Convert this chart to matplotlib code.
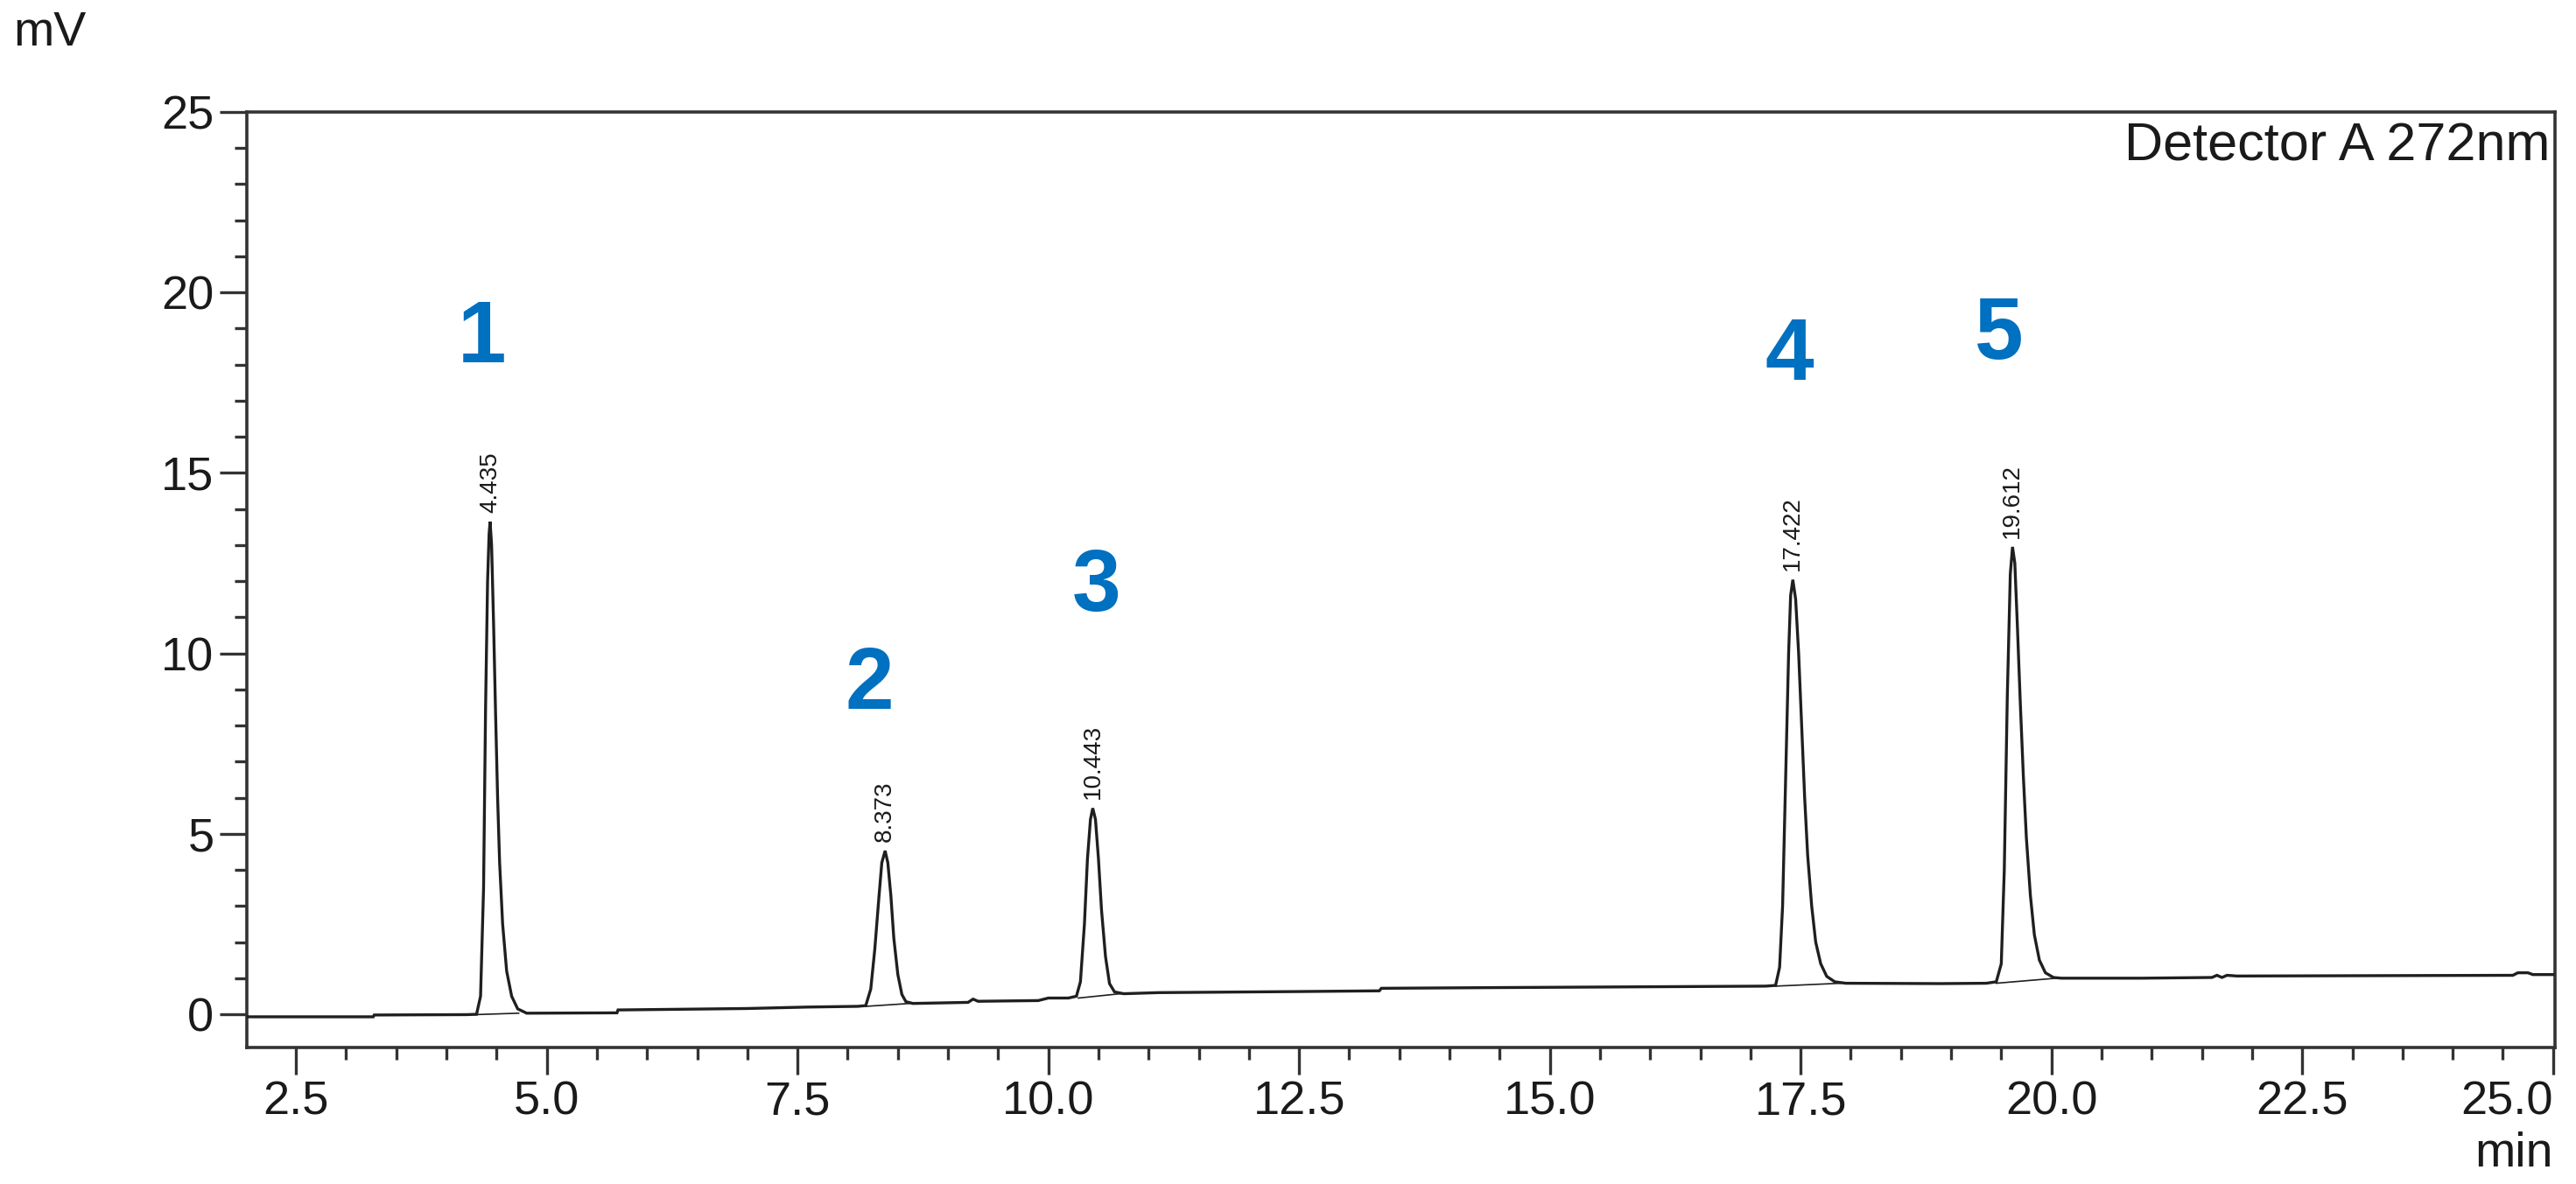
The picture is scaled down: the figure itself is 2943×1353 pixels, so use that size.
import matplotlib
matplotlib.use("Agg")
import matplotlib.pyplot as plt
from matplotlib.ticker import MultipleLocator
import numpy as np

# ---------------- data ----------------
base0_t  = [2.00, 3.27, 3.28, 4.20, 4.30]
base0_mv = [-0.07, -0.07, -0.02, -0.01, 0.00]

peak1_t  = [4.34, 4.37, 4.39, 4.41, 4.425, 4.435, 4.45, 4.47, 4.49, 4.51, 4.53, 4.56, 4.60, 4.65, 4.71, 4.80]
peak1_mv = [0.5, 3.5, 8.5, 12.0, 13.3, 13.65, 13.0, 10.8, 8.3, 6.0, 4.2, 2.5, 1.2, 0.5, 0.15, 0.03]

base1_t  = [5.70, 5.71, 7.00, 7.60, 8.10, 8.18]
base1_mv = [0.04, 0.12, 0.16, 0.20, 0.22, 0.24]

peak2_t  = [8.23, 8.27, 8.31, 8.34, 8.373, 8.40, 8.43, 8.46, 8.50, 8.54, 8.58, 8.65]
peak2_mv = [0.7, 1.8, 3.2, 4.2, 4.53, 4.2, 3.3, 2.1, 1.1, 0.55, 0.35, 0.30]

base2_t  = [9.20, 9.25, 9.30, 9.90, 10.00, 10.20, 10.28]
base2_mv = [0.33, 0.42, 0.36, 0.38, 0.45, 0.45, 0.50]

peak3_t  = [10.32, 10.36, 10.39, 10.42, 10.443, 10.47, 10.50, 10.53, 10.57, 10.61, 10.66, 10.75]
peak3_mv = [0.9, 2.5, 4.3, 5.4, 5.71, 5.4, 4.3, 2.9, 1.6, 0.85, 0.62, 0.57]

base3_t  = [11.10, 12.50, 13.30, 13.32, 14.50, 16.50, 17.15, 17.25]
base3_mv = [0.60, 0.63, 0.65, 0.72, 0.74, 0.77, 0.78, 0.80]

peak4_t  = [17.29, 17.32, 17.35, 17.38, 17.40, 17.422, 17.45, 17.48, 17.51, 17.54, 17.57, 17.61, 17.65, 17.70, 17.76, 17.84, 17.95]
peak4_mv = [1.3, 3.0, 6.5, 10.0, 11.6, 12.04, 11.5, 10.0, 8.0, 6.0, 4.4, 3.0, 2.0, 1.4, 1.05, 0.90, 0.86]

base4_t  = [18.90, 19.35, 19.45]
base4_mv = [0.85, 0.86, 0.90]

peak5_t  = [19.50, 19.53, 19.56, 19.59, 19.612, 19.635, 19.66, 19.69, 19.72, 19.75, 19.79, 19.83, 19.88, 19.94, 20.02, 20.10]
peak5_mv = [1.4, 4.0, 8.8, 12.2, 12.95, 12.5, 10.8, 8.6, 6.6, 4.9, 3.3, 2.2, 1.5, 1.15, 1.02, 1.00]

base5_t  = [20.90, 21.60, 21.65, 21.70, 21.75, 21.85, 24.60, 24.65, 24.75, 24.80, 25.00]
base5_mv = [1.00, 1.02, 1.08, 1.02, 1.08, 1.06, 1.08, 1.15, 1.15, 1.10, 1.10]

# integration baselines under the peaks
ibl_start_t  = [4.28, 8.18, 10.30, 17.25, 19.45]
ibl_start_mv = [-0.01, 0.22, 0.45, 0.78, 0.86]
ibl_end_t    = [4.72, 8.62, 10.72, 17.90, 20.05]
ibl_end_mv   = [0.03, 0.30, 0.57, 0.86, 1.00]

# peak annotations
rt_values   = [4.435, 8.373, 10.443, 17.422, 19.612]
rt_labels   = ["4.435", "8.373", "10.443", "17.422", "19.612"]
apex_mv     = [13.65, 4.53, 5.71, 12.04, 12.95]
peak_nums   = ["1", "2", "3", "4", "5"]
peak_num_x  = [4.35, 8.22, 10.48, 17.39, 19.48]
peak_num_y  = [18.7, 9.1, 11.8, 18.2, 18.8]

x_ticks = [2.5, 5.0, 7.5, 10.0, 12.5, 15.0, 17.5, 20.0, 22.5, 25.0]
y_ticks = [0, 5, 10, 15, 20, 25]

# ---------------- figure ----------------
W, H = 2943, 1353
fig = plt.figure(figsize=(W / 100, H / 100), dpi=100)
ax = fig.add_axes([282 / W, 1 - 1197 / H, (2919 - 282) / W, (1197 - 128) / H])

trace_t = base0_t + peak1_t + base1_t + peak2_t + base2_t + peak3_t + base3_t + peak4_t + base4_t + peak5_t + base5_t
trace_mv = base0_mv + peak1_mv + base1_mv + peak2_mv + base2_mv + peak3_mv + base3_mv + peak4_mv + base4_mv + peak5_mv + base5_mv

ax.plot(trace_t, trace_mv, color="#1f1f1f", lw=2.4, solid_joinstyle="miter", zorder=3)
for ts, ys, te, ye in zip(ibl_start_t, ibl_start_mv, ibl_end_t, ibl_end_mv):
    ax.plot([ts, te], [ys, ye], color="#1f1f1f", lw=1.2, zorder=2)

ax.set_xlim(2.01, 25.02)
ax.set_ylim(-0.92, 25)

font_main = ["Liberation Sans", "DejaVu Sans"]
ax.set_xticks(x_ticks)
ax.set_yticks(y_ticks)
ax.set_xticklabels([f"{v:.1f}" for v in x_ticks])
ax.set_yticklabels([f"{v:d}" for v in y_ticks])
ax.xaxis.set_minor_locator(MultipleLocator(0.5))
ax.yaxis.set_minor_locator(MultipleLocator(1))
ax.tick_params(which="major", direction="out", length=22, width=2.4, color="#333333", pad=5)
ax.tick_params(which="minor", direction="out", length=10, width=2.4, color="#333333")
for lab in ax.get_xticklabels() + ax.get_yticklabels():
    lab.set_fontfamily(font_main)
    lab.set_fontsize(39)
    lab.set_color("#1a1a1a")
ax.get_xticklabels()[-1].set_horizontalalignment("right")

for sp in ax.spines.values():
    sp.set_linewidth(2.6)
    sp.set_color("#333333")

# retention time labels
for rt, lab, ap in zip(rt_values, rt_labels, apex_mv):
    ax.text(rt, ap + 0.25, lab, rotation=90, ha="center", va="bottom",
            fontsize=20, family=font_main, color="#1a1a1a")

# peak numbers
for x, y, s in zip(peak_num_x, peak_num_y, peak_nums):
    ax.text(x, y, s, ha="center", va="center", fontsize=72, fontweight="bold",
            family=font_main, color="#0070C0")

ax.text(0.998, 0.989, "Detector A 272nm", transform=ax.transAxes, ha="right", va="top",
        fontsize=44, family=font_main, color="#1a1a1a")

fig.text(15 / W, 1 - 38 / H, "mV", ha="left", va="center", fontsize=40,
         family=font_main, color="#1a1a1a")
fig.text(2917 / W, 1 - 1333 / H, "min", ha="right", va="baseline", fontsize=40,
         family=font_main, color="#1a1a1a")

fig.savefig("out.png", dpi=100, facecolor="white")
